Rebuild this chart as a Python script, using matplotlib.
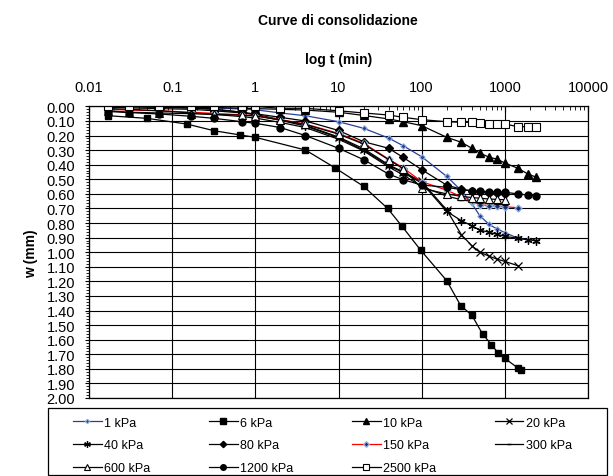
import matplotlib
matplotlib.use("Agg")
import matplotlib.pyplot as plt
from matplotlib.patches import Rectangle
from matplotlib.ticker import FixedLocator, MultipleLocator, NullFormatter

plt.rcParams['font.family'] = ['Liberation Sans', 'DejaVu Sans']

# reading times (min) shared by most load steps
t_std = [0.017, 0.03, 0.07, 0.17, 0.32, 0.69, 1, 2, 4, 10, 20, 40, 60, 100,
         200, 300, 400, 500, 650, 800, 1000, 1440, 1900, 2400]

# 6 kPa was read on its own schedule
t_6 = [0.017, 0.05, 0.15, 0.32, 0.66, 1, 4, 9, 20, 39, 58, 97, 200, 295,
       400, 540, 690, 830, 1000, 1440, 1550]
w_6 = [0.064, 0.082, 0.121, 0.167, 0.196, 0.212, 0.299, 0.42, 0.548, 0.70,
       0.822, 0.985, 1.195, 1.367, 1.431, 1.561, 1.634, 1.691, 1.728, 1.795, 1.81]

# settlements w (mm)
w_1 = [0.0, 0.0, 0.005, 0.01, 0.012, 0.018, 0.023, 0.045, 0.064, 0.105, 0.15,
       0.217, 0.27, 0.345, 0.48, 0.578, 0.665, 0.75, 0.81, 0.84, 0.865, 0.905,
       0.915, 0.92]
w_10 = [0.0, 0.0, 0.0, 0.005, 0.008, 0.012, 0.015, 0.02, 0.025, 0.04, 0.062,
        0.086, 0.105, 0.132, 0.212, 0.246, 0.287, 0.32, 0.349, 0.361, 0.388,
        0.425, 0.464, 0.486]
w_20 = [0.0, 0.0, 0.005, 0.01, 0.02, 0.04, 0.055, 0.09, 0.13, 0.21, 0.29, 0.40,
        0.45, 0.515, 0.71, 0.88, 0.955, 1.0, 1.028, 1.047, 1.063, 1.093]
w_40 = [0.0, 0.0, 0.005, 0.01, 0.02, 0.04, 0.06, 0.095, 0.135, 0.215, 0.3,
        0.405, 0.455, 0.525, 0.72, 0.784, 0.818, 0.848, 0.864, 0.877, 0.891,
        0.905, 0.914, 0.921]
w_80 = [0.005, 0.01, 0.015, 0.02, 0.03, 0.045, 0.05, 0.075, 0.1, 0.165, 0.242,
        0.287, 0.35, 0.434, 0.54, 0.568, 0.58, 0.588, 0.592, 0.596, 0.6]
w_150 = [0.02, 0.025, 0.03, 0.04, 0.048, 0.058, 0.064, 0.091, 0.121, 0.185,
         0.253, 0.361, 0.422, 0.516, 0.575, 0.62, 0.65, 0.675, 0.68, 0.685,
         0.688, 0.695]
w_300 = [0.015, 0.02, 0.03, 0.045, 0.055, 0.07, 0.08, 0.11, 0.145, 0.225, 0.305,
         0.415, 0.47, 0.55, 0.615, 0.64, 0.652, 0.66, 0.665, 0.67, 0.675]
w_600 = [0.03, 0.04, 0.045, 0.05, 0.055, 0.06, 0.066, 0.093, 0.124, 0.19, 0.258,
         0.365, 0.428, 0.562, 0.60, 0.617, 0.625, 0.63, 0.635, 0.638, 0.64]
w_1200 = [0.035, 0.042, 0.052, 0.068, 0.082, 0.105, 0.116, 0.145, 0.2, 0.287,
          0.365, 0.464, 0.503, 0.539, 0.555, 0.571, 0.578, 0.582, 0.584, 0.586,
          0.589, 0.6, 0.608, 0.612]
w_2500 = [0.0, 0.0, 0.0, 0.0, 0.0, 0.0, 0.0, 0.013, 0.013, 0.03, 0.045, 0.059,
          0.075, 0.091, 0.105, 0.109, 0.109, 0.114, 0.121, 0.121, 0.121, 0.139,
          0.139, 0.139]

x_ticks = [0.01, 0.1, 1, 10, 100, 1000, 10000]
x_labels = ['0.01', '0.1', '1', '10', '100', '1000', '10000']

W, H = 613, 477
fig = plt.figure(figsize=(W / 100, H / 100), dpi=100)
ax = fig.add_axes([89 / W, 1 - 399 / H, 499 / W, 291.6 / H])

lw = 0.9
h = {}
h['1'], = ax.plot(t_std[:len(w_1)], w_1, color='#2b3f99', lw=lw, marker='D', ms=2.8,
                  mfc='#2b3f99', mec='#8fb0dc', mew=0.8, label='1 kPa')
h['6'], = ax.plot(t_6, w_6, color='black', lw=lw, marker='s', ms=5, label='6 kPa')
h['10'], = ax.plot(t_std[:len(w_10)], w_10, color='black', lw=lw, marker='^', ms=5.5,
                   label='10 kPa')
h['20'], = ax.plot(t_std[:len(w_20)], w_20, color='black', lw=lw, marker='x', ms=5.5,
                   mew=0.9, label='20 kPa')
h['40'], = ax.plot(t_std[:len(w_40)], w_40, color='black', lw=lw, marker=(6, 2, 0),
                   ms=6, mew=0.9, label='40 kPa')
h['80'], = ax.plot(t_std[:len(w_80)], w_80, color='black', lw=lw, marker='D', ms=4,
                   label='80 kPa')
h['150'], = ax.plot(t_std[:len(w_150)], w_150, color='red', lw=lw, marker='D', ms=3.5,
                    mfc='#1a2a70', mec='#8fb0dc', mew=1, label='150 kPa')
h['300'], = ax.plot(t_std[:len(w_300)], w_300, color='black', lw=lw, marker='_', ms=4,
                    label='300 kPa')
h['600'], = ax.plot(t_std[:len(w_600)], w_600, color='black', lw=lw, marker='^', ms=5.5,
                    mfc='white', mec='black', mew=0.8, label='600 kPa')
h['1200'], = ax.plot(t_std[:len(w_1200)], w_1200, color='black', lw=lw, marker='o',
                     ms=5, label='1200 kPa')
h['2500'], = ax.plot(t_std[:len(w_2500)], w_2500, color='black', lw=lw, marker='s',
                     ms=5.5, mfc='white', mec='black', mew=0.8, label='2500 kPa')

ax.set_xscale('log')
ax.set_xlim(0.01, 10000)
ax.set_ylim(2.0, 0.0)
ax.xaxis.tick_top()
ax.xaxis.set_label_position('top')
ax.xaxis.set_major_locator(FixedLocator(x_ticks))
ax.set_xticklabels(x_labels)
ax.xaxis.set_minor_formatter(NullFormatter())
ax.yaxis.set_major_locator(MultipleLocator(0.1))
ax.yaxis.set_minor_locator(MultipleLocator(0.02))
ax.yaxis.set_major_formatter(plt.FormatStrFormatter('%.2f'))
ax.tick_params(axis='x', which='major', direction='in', length=4, labelsize=10.5, pad=9)
ax.tick_params(axis='x', which='minor', direction='in', length=3)
ax.tick_params(axis='y', which='major', direction='out', length=3, labelsize=10.5, pad=7)
ax.tick_params(axis='y', which='minor', direction='out', length=2)
ax.grid(True, which='major', color='black', lw=0.8)
for s in ax.spines.values():
    s.set_color('black')
    s.set_linewidth(0.9)

ax.set_xlabel('log t (min)', fontsize=10, fontweight='bold', labelpad=12)
ax.set_ylabel('w (mm)', fontsize=10, fontweight='bold', labelpad=6)
fig.text(338 / W, 1 - 21 / H, 'Curve di consolidazione', ha='center', va='center',
         fontsize=10, fontweight='bold')

# legend frame drawn by hand, entries laid out inside it
fig.patches.append(Rectangle((47.5 / W, 1 - 476 / H), (607 - 47.5) / W, (476 - 408.5) / H,
                             transform=fig.transFigure, fill=False, edgecolor='black',
                             lw=0.9))
order = ['1', '40', '600', '6', '80', '1200', '10', '150', '2500', '20', '300']
fig.legend([h[k] for k in order], [h[k].get_label() for k in order],
           loc='center', bbox_to_anchor=(73 / W, 1 - 478 / H, (572 - 73) / W, 63 / H),
           mode='expand', ncol=4, fontsize=9, frameon=False, handlelength=2.3,
           handletextpad=0.2, borderpad=0, labelspacing=0.87, borderaxespad=0,
           markerscale=0.8)

fig.savefig('out.png', dpi=100)
